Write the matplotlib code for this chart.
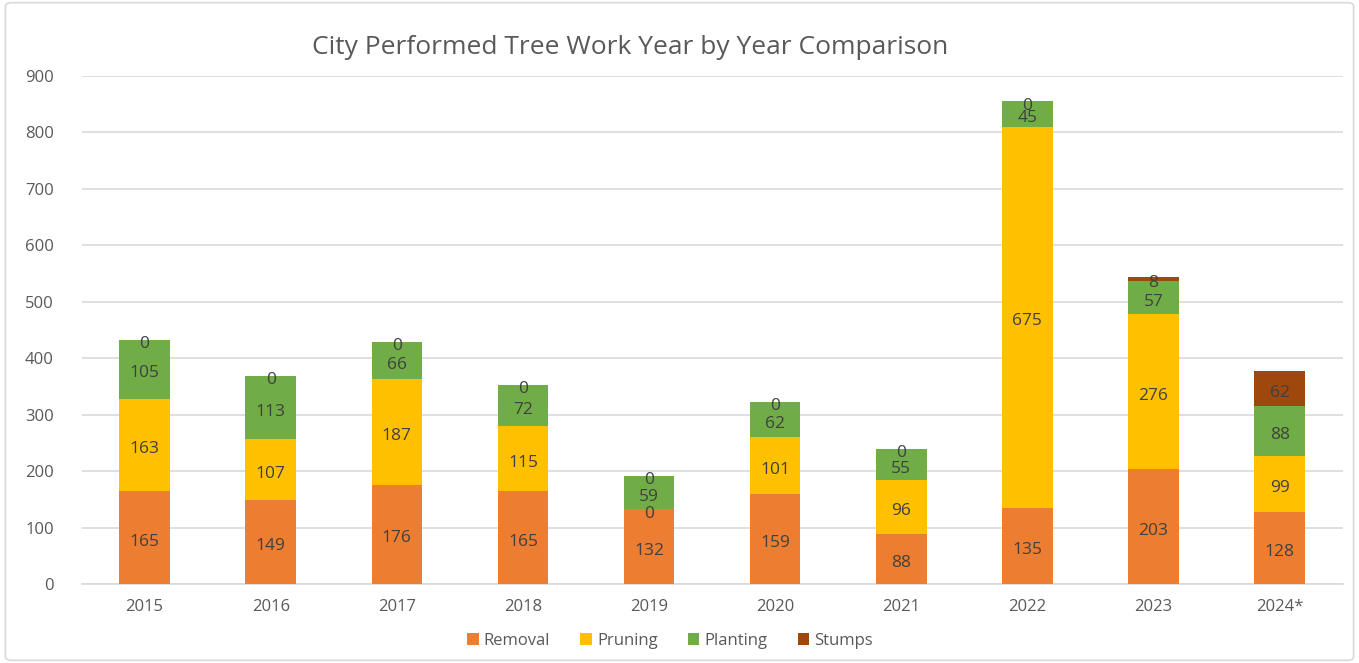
import matplotlib
matplotlib.use("Agg")
import matplotlib.pyplot as plt
import numpy as np
from matplotlib.patches import FancyBboxPatch

years = ["2015", "2016", "2017", "2018", "2019", "2020", "2021", "2022", "2023", "2024*"]
removal = [165, 149, 176, 165, 132, 159, 88, 135, 203, 128]
pruning = [163, 107, 187, 115, 0, 101, 96, 675, 276, 99]
planting = [105, 113, 66, 72, 59, 62, 55, 45, 57, 88]
stumps = [0, 0, 0, 0, 0, 0, 0, 0, 8, 62]

series = [("Removal", removal, "#ED7D31"),
          ("Pruning", pruning, "#FFC000"),
          ("Planting", planting, "#70AD47"),
          ("Stumps", stumps, "#9E480E")]

plt.rcParams['font.family'] = ['Open Sans', 'DejaVu Sans']

fig = plt.figure(figsize=(13.59, 6.63), dpi=100)
ax = fig.add_axes([0.060, 0.1192, 0.928, 0.7662])

x = np.arange(len(years))
bottom = np.zeros(len(years))
for name, vals, col in series:
    vals = np.array(vals, dtype=float)
    bars = ax.bar(x, vals, 0.4, bottom=bottom, color=col, label=name, zorder=3)
    ax.bar_label(bars, labels=[str(int(v)) for v in vals], label_type='center',
                 color='#404040', fontsize=12.5, zorder=4, padding=-3)
    bottom += vals

ax.set_xlim(-0.5, 9.5)
ax.set_ylim(0, 900)
ax.set_yticks(range(0, 901, 100))
ax.set_xticks(x)
ax.set_xticklabels(years)
ax.tick_params(axis='both', length=0, labelsize=12, labelcolor='#595959')
ax.tick_params(axis='y', pad=20)
ax.tick_params(axis='x', pad=11)
ax.yaxis.grid(True, color='#D9D9D9', linewidth=1.2, zorder=0)
for s in ['top', 'right', 'left']:
    ax.spines[s].set_visible(False)
ax.spines['bottom'].set_color('#D9D9D9')
ax.spines['bottom'].set_linewidth(1.2)

fig.text(0.4636, 0.928, "City Performed Tree Work Year by Year Comparison",
         ha='center', va='center', fontsize=19, color='#595959')

handles, labels = ax.get_legend_handles_labels()
fig.legend(handles, labels, loc='center', bbox_to_anchor=(0.493, 0.033), ncol=4,
           frameon=False, fontsize=12, labelcolor='#595959', handlelength=0.7,
           handleheight=0.7, columnspacing=1.8, handletextpad=0.3)

border = FancyBboxPatch((0.004, 0.004), 0.992, 0.992, boxstyle="round,pad=0,rounding_size=0.005",
                        transform=fig.transFigure, fill=False, edgecolor='#D9D9D9', linewidth=1.2)
fig.patches.append(border)

fig.savefig("out.png", dpi=100)
